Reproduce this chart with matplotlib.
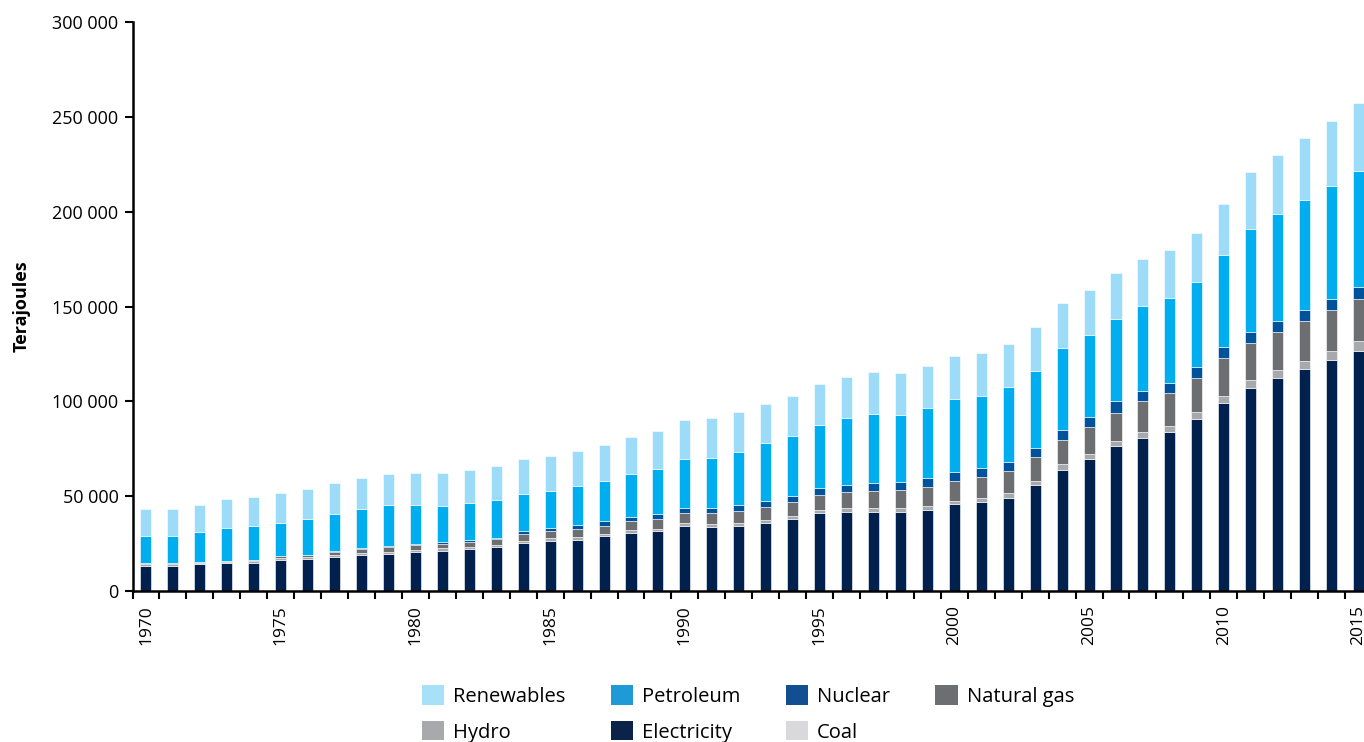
import matplotlib

matplotlib.use("Agg")
import matplotlib.pyplot as plt
from matplotlib.patches import Patch
from matplotlib.ticker import FuncFormatter

plt.rcParams["font.family"] = ["Open Sans", "DejaVu Sans"]

years = list(range(1970, 2016))

# Terajoules by source (bottom to top)
coal = [0, 0, 0, 0, 0, 0, 0, 0, 0, 0, 0, 0, 0, 0, 0, 0, 0, 0, 0, 0, 0, 0, 0,
        0, 0, 0, 0, 0, 0, 0, 0, 0, 0, 0, 0, 0, 0, 0, 0, 0, 0, 0, 0, 0, 0, 0]
electricity = [13400, 13400, 14100, 14500, 14900, 16300, 16700, 18100, 18800, 19700,
               20300, 21100, 22100, 23000, 25500, 26500, 27100, 28800, 30800, 31600,
               34300, 33600, 34100, 36000, 38000, 41000, 41800, 41500, 41800, 42900,
               45700, 47100, 49200, 55700, 64000, 69700, 76300, 80600, 83600, 90900,
               99000, 107000, 112300, 117000, 122000, 126800]
hydro = [800, 800, 800, 800, 800, 1000, 1000, 1100, 1100, 1100,
         1300, 1400, 1300, 1400, 1100, 1300, 1500, 1400, 1200, 1300,
         1400, 1500, 1900, 1400, 1600, 1700, 2000, 2100, 2000, 1900,
         1600, 1800, 2300, 2300, 2700, 2700, 2900, 3200, 3400, 3400,
         3900, 4300, 4300, 4400, 4600, 5000]
natural_gas = [500, 500, 600, 700, 900, 1100, 1300, 1600, 2400, 2300,
               2400, 2500, 2600, 2800, 3600, 3800, 4300, 4200, 4900, 5200,
               5400, 6000, 6200, 6900, 7300, 7900, 8400, 9100, 9300, 10000,
               10700, 11000, 11600, 12400, 13000, 14100, 14900, 16200, 17300, 17900,
               19800, 19600, 20100, 20900, 21600, 22100]
nuclear = [0, 0, 0, 0, 0, 0, 0, 100, 300, 700,
           600, 700, 900, 900, 1200, 1800, 1700, 2500, 2300, 2500,
           2800, 2800, 3000, 3300, 3400, 3900, 3900, 4300, 4600, 4600,
           4900, 5100, 4900, 4900, 5200, 5500, 5900, 5400, 5200, 5700,
           5700, 5800, 5900, 6000, 6000, 6200]
petroleum = [14300, 14300, 15400, 17400, 17800, 17500, 19000, 19900, 20500, 21400,
             20500, 19300, 19300, 19700, 19900, 19500, 20600, 21100, 22700, 23900,
             25900, 26300, 28300, 30300, 31600, 33000, 35300, 36300, 35100, 37100,
             38300, 37800, 39400, 40800, 43300, 43000, 43500, 44900, 45100, 45200,
             49000, 54400, 56000, 58100, 59500, 61500]
renewables = [14300, 14200, 14500, 14900, 15200, 15600, 15800, 16100, 16500, 16700,
              17000, 17200, 17800, 17900, 18100, 18300, 18600, 19000, 19300, 19700,
              20500, 20800, 21100, 20900, 21100, 21700, 21400, 22000, 22200, 22300,
              22900, 22900, 23000, 23100, 23700, 23800, 24400, 24800, 25300, 25900,
              26400, 29900, 31500, 32500, 34300, 35800]

series = [
    ("Coal", coal, "#d9d9db"),
    ("Electricity", electricity, "#00204e"),
    ("Hydro", hydro, "#a7a9ac"),
    ("Natural gas", natural_gas, "#6d6e71"),
    ("Nuclear", nuclear, "#00539b"),
    ("Petroleum", petroleum, "#00aeef"),
    ("Renewables", renewables, "#9ddcf8"),
]
legend_colors = {"Renewables": "#a8e0f8", "Petroleum": "#1e9ad6", "Nuclear": "#124f92",
                 "Natural gas": "#6d6e71", "Hydro": "#a7a9ac", "Electricity": "#0b2348",
                 "Coal": "#d9d9db"}

fig = plt.figure(figsize=(13.64, 7.42), dpi=100)
ax = fig.add_axes([132.5 / 1364, 1 - 591 / 742, (1372 - 132.5) / 1364, (591 - 22) / 742])

x = list(range(len(years)))
bottom = [0] * len(years)
for name, vals, col in series:
    ax.bar(x, vals, width=0.41, bottom=bottom, color=col, edgecolor="white", linewidth=0.4)
    bottom = [b + v for b, v in zip(bottom, vals)]

ax.set_xlim(-0.5, len(years) - 0.5)
ax.set_ylim(0, 300000)
ax.set_yticks(range(0, 300001, 50000))
ax.yaxis.set_major_formatter(FuncFormatter(lambda v, p: f"{int(v):,}".replace(",", " ")))
ax.tick_params(axis="y", labelsize=13, length=6, width=1.5, pad=4, colors="black")

ax.set_xticks([i for i, y in enumerate(years) if y % 5 == 0])
ax.set_xticklabels([str(y) for y in years if y % 5 == 0], rotation=90, fontsize=12.5)
ax.set_xticks([i - 0.5 for i in range(len(years) + 1)], minor=True)
ax.tick_params(axis="x", which="major", length=0, pad=10)
ax.tick_params(axis="x", which="minor", length=6, width=1.5)

for s in ("top", "right"):
    ax.spines[s].set_visible(False)
for s in ("left", "bottom"):
    ax.spines[s].set_linewidth(1.8)

ax.set_ylabel("Terajoules", fontsize=13, fontweight="bold", labelpad=16)

order = ["Renewables", "Hydro", "Petroleum", "Electricity", "Nuclear", "Coal", "Natural gas"]
handles = [Patch(facecolor=legend_colors[n], edgecolor="none", label=n) for n in order]
fig.legend(handles=handles, ncol=4, loc="center", bbox_to_anchor=(748 / 1364, 1 - 714 / 742),
           frameon=False, fontsize=14.5, handlelength=1.1, handleheight=1.1, handletextpad=0.45,
           columnspacing=2.25, labelspacing=0.7)

fig.savefig("out.png", dpi=100)
